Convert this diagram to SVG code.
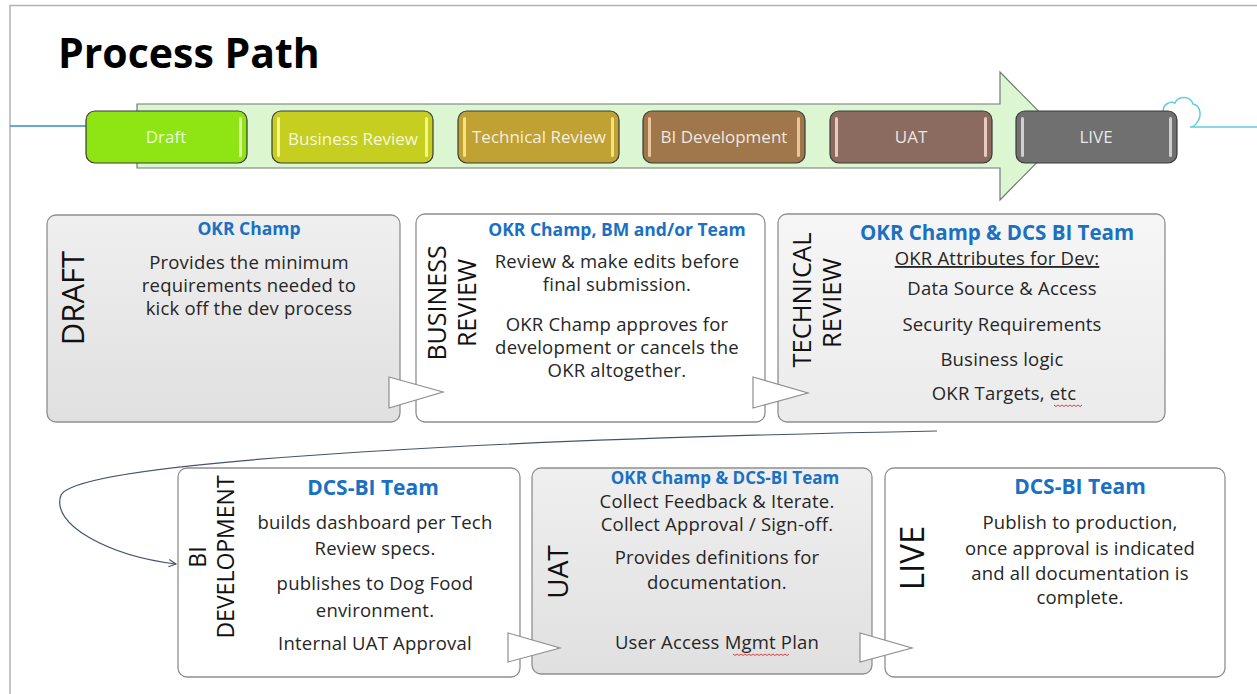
<svg xmlns="http://www.w3.org/2000/svg" width="1257" height="694" viewBox="0 0 1257 694">
<defs>
<style>
.frame{stroke:#b3b3b3;stroke-width:1.5;fill:none}
.pill{stroke:#3a3a3a;stroke-width:1.2}
.pilltxt{font-family:"Open Sans","Noto Sans",sans-serif;font-size:17px;fill:#ffffff;fill-opacity:0.85;text-anchor:middle}
.card{stroke:#8f8f8f;stroke-width:1.3}
.who{font-family:"Open Sans","Noto Sans",sans-serif;font-weight:bold;fill:#1a70c2;text-anchor:middle}
.body{font-family:"Open Sans","Noto Sans",sans-serif;font-size:18.5px;letter-spacing:0.2px;fill:#262626;text-anchor:middle}
.side{font-family:"Open Sans","Noto Sans",sans-serif;fill:#111111;text-anchor:middle}
.tail{fill:#ffffff;stroke:#8f8f8f;stroke-width:1.2}
.conn{fill:none;stroke:#44546a;stroke-width:1.2}
.squig{fill:none;stroke:#e03030;stroke-width:0.9}
</style>
<linearGradient id="gGray" x1="0" y1="0" x2="0" y2="1"><stop offset="0" stop-color="#efefef"/><stop offset="1" stop-color="#e0e0e0"/></linearGradient>
<linearGradient id="gLight" x1="0" y1="0" x2="0" y2="1"><stop offset="0" stop-color="#f6f6f6"/><stop offset="1" stop-color="#ebebeb"/></linearGradient>
<marker id="chev" viewBox="0 0 10 10" refX="9" refY="5" markerWidth="9" markerHeight="9" orient="auto" markerUnits="userSpaceOnUse"><path d="M1,1 L9,5 L1,9" fill="none" stroke="#44546a" stroke-width="1.2"/></marker>
</defs>
<rect width="1257" height="694" fill="#ffffff"/>
<path class="frame" d="M10,694 L10,5.5 L1257,5.5"/>
<text x="58" y="68" font-family="Open Sans, Noto Sans, sans-serif" font-weight="bold" font-size="41" fill="#000000">Process Path</text>

<g id="timeline">
<path d="M10,126 L86,126" stroke="#2f8fc4" stroke-width="1.5"/>
<path d="M1163,112 C1163,104 1170,101 1175,103 C1178,96 1190,95 1193,104 C1200,105 1202,115 1198,121 C1196,125 1193,127 1190,127 L1257,127" fill="none" stroke="#62cde0" stroke-width="1.5"/>
<polygon points="137,104 1000,104 1000,72 1063,136 1000,200 1000,168 137,168" fill="#dcf6d2" stroke="#707a70" stroke-width="1.2"/>
</g>

<g id="pill-draft">
<rect class="pill" x="86" y="111" width="161" height="52" rx="9" fill="#8fe514"/>
<rect x="239" y="117" width="3" height="40" rx="1.5" fill="#d8f8a8"/>
<text class="pilltxt" x="166" y="143">Draft</text>
</g>
<g id="pill-business">
<rect class="pill" x="272" y="111" width="161" height="52" rx="9" fill="#c6cf1f"/>
<rect x="277" y="117" width="3" height="40" rx="1.5" fill="#f4f58a"/>
<rect x="425" y="117" width="3" height="40" rx="1.5" fill="#f4f58a"/>
<text class="pilltxt" x="353" y="145">Business Review</text>
</g>
<g id="pill-technical">
<rect class="pill" x="458" y="111" width="161" height="52" rx="9" fill="#bfa134"/>
<rect x="463" y="117" width="3" height="40" rx="1.5" fill="#f5e27c"/>
<rect x="611" y="117" width="3" height="40" rx="1.5" fill="#f5e27c"/>
<text class="pilltxt" x="539" y="143">Technical Review</text>
</g>
<g id="pill-bidev">
<rect class="pill" x="643" y="111" width="162" height="52" rx="9" fill="#a0774a"/>
<rect x="648" y="117" width="3" height="40" rx="1.5" fill="#ebc59a"/>
<rect x="797" y="117" width="3" height="40" rx="1.5" fill="#ebc59a"/>
<text class="pilltxt" x="724" y="143">BI Development</text>
</g>
<g id="pill-uat">
<rect class="pill" x="830" y="111" width="162" height="52" rx="9" fill="#8b6b60"/>
<rect x="835" y="117" width="3" height="40" rx="1.5" fill="#e9c9c0"/>
<rect x="984" y="117" width="3" height="40" rx="1.5" fill="#e9c9c0"/>
<text class="pilltxt" x="911" y="143">UAT</text>
</g>
<g id="pill-live">
<rect class="pill" x="1016" y="111" width="161" height="52" rx="9" fill="#707070"/>
<rect x="1021" y="117" width="3" height="40" rx="1.5" fill="#cfcfcf"/>
<rect x="1169" y="117" width="3" height="40" rx="1.5" fill="#cfcfcf"/>
<text class="pilltxt" x="1096" y="143">LIVE</text>
</g>

<g id="card-draft">
<rect class="card" x="47" y="215" width="353" height="207" rx="9" fill="url(#gGray)"/>
<text class="side" font-size="31" transform="translate(84,298) rotate(-90)" x="0" y="0">DRAFT</text>
<text class="who" font-size="17.5" x="249" y="235">OKR Champ</text>
<text class="body" x="249" y="269">Provides the minimum</text>
<text class="body" x="249" y="292">requirements needed to</text>
<text class="body" x="249" y="315">kick off the dev process</text>
</g>

<g id="card-business">
<rect class="card" x="416" y="214" width="349" height="208" rx="9" fill="#ffffff"/>
<text class="side" font-size="25" transform="translate(446,303) rotate(-90)" x="0" y="0">BUSINESS</text>
<text class="side" font-size="25" transform="translate(476,303) rotate(-90)" x="0" y="0">REVIEW</text>
<text class="who" font-size="17.5" x="617" y="236">OKR Champ, BM and/or Team</text>
<text class="body" x="617" y="268">Review &amp; make edits before</text>
<text class="body" x="617" y="291">final submission.</text>
<text class="body" x="617" y="331">OKR Champ approves for</text>
<text class="body" x="617" y="354">development or cancels the</text>
<text class="body" x="617" y="377">OKR altogether.</text>
</g>

<g id="card-technical">
<rect class="card" x="778" y="214" width="387" height="208" rx="9" fill="url(#gLight)"/>
<text class="side" font-size="25.5" transform="translate(811,300) rotate(-90)" x="0" y="0">TECHNICAL</text>
<text class="side" font-size="25.5" transform="translate(841,303) rotate(-90)" x="0" y="0">REVIEW</text>
<text class="who" font-size="20.5" x="997" y="240">OKR Champ &amp; DCS BI Team</text>
<text class="body" font-size="16.5" x="997" y="265" text-decoration="underline">OKR Attributes for Dev:</text>
<text class="body" x="1002" y="295">Data Source &amp; Access</text>
<text class="body" x="1002" y="331">Security Requirements</text>
<text class="body" x="1002" y="366">Business logic</text>
<text class="body" x="1004" y="400">OKR Targets, etc</text>
<path class="squig" d="M1054,405 l2,1.5 l2,-1.5 l2,1.5 l2,-1.5 l2,1.5 l2,-1.5 l2,1.5 l2,-1.5 l2,1.5 l2,-1.5 l2,1.5 l2,-1.5 l2,1.5 l2,-1.5"/>
</g>

<g id="card-bidev">
<rect class="card" x="178" y="468" width="342" height="209" rx="9" fill="#ffffff"/>
<text class="side" font-size="23" transform="translate(206,557) rotate(-90)" x="0" y="0">BI</text>
<text class="side" font-size="23" transform="translate(234,557) rotate(-90)" x="0" y="0">DEVELOPMENT</text>
<text class="who" font-size="21" x="373" y="495">DCS-BI Team</text>
<text class="body" x="375" y="529">builds dashboard per Tech</text>
<text class="body" x="375" y="555">Review specs.</text>
<text class="body" x="375" y="590">publishes to Dog Food</text>
<text class="body" x="375" y="617">environment.</text>
<text class="body" x="375" y="650">Internal UAT Approval</text>
</g>

<g id="card-uat">
<rect class="card" x="532" y="468" width="340" height="206" rx="9" fill="url(#gGray)"/>
<text class="side" font-size="28" transform="translate(568,572) rotate(-90)" x="0" y="0">UAT</text>
<text class="who" font-size="17" x="725" y="484">OKR Champ &amp; DCS-BI Team</text>
<text class="body" x="717" y="508">Collect Feedback &amp; Iterate.</text>
<text class="body" x="717" y="531">Collect Approval / Sign-off.</text>
<text class="body" x="717" y="564">Provides definitions for</text>
<text class="body" x="717" y="589">documentation.</text>
<text class="body" x="717" y="649">User Access Mgmt Plan</text>
<path class="squig" d="M733,654 l2,1.5 l2,-1.5 l2,1.5 l2,-1.5 l2,1.5 l2,-1.5 l2,1.5 l2,-1.5 l2,1.5 l2,-1.5 l2,1.5 l2,-1.5 l2,1.5 l2,-1.5 l2,1.5 l2,-1.5 l2,1.5 l2,-1.5 l2,1.5 l2,-1.5 l2,1.5 l2,-1.5 l2,1.5 l2,-1.5 l2,1.5 l2,-1.5 l2,1.5 l2,-1.5"/>
</g>

<g id="card-live">
<rect class="card" x="885" y="468" width="340" height="209" rx="9" fill="#ffffff"/>
<text class="side" font-size="33" transform="translate(924,558) rotate(-90)" x="0" y="0">LIVE</text>
<text class="who" font-size="21" x="1080" y="494">DCS-BI Team</text>
<text class="body" x="1080" y="529">Publish to production,</text>
<text class="body" x="1080" y="555">once approval is indicated</text>
<text class="body" x="1080" y="580">and all documentation is</text>
<text class="body" x="1080" y="604">complete.</text>
</g>

<g id="connectors">
<polygon class="tail" points="389,377 443,392 389,408"/>
<polygon class="tail" points="753,377 808,393 753,408"/>
<polygon class="tail" points="508,633 560,648 508,662"/>
<polygon class="tail" points="860,633 912,648 860,662"/>
<path class="conn" d="M937,431 C560,438 80,458 61,495 C50,525 110,556 176,564" marker-end="url(#chev)"/>
</g>
</svg>
